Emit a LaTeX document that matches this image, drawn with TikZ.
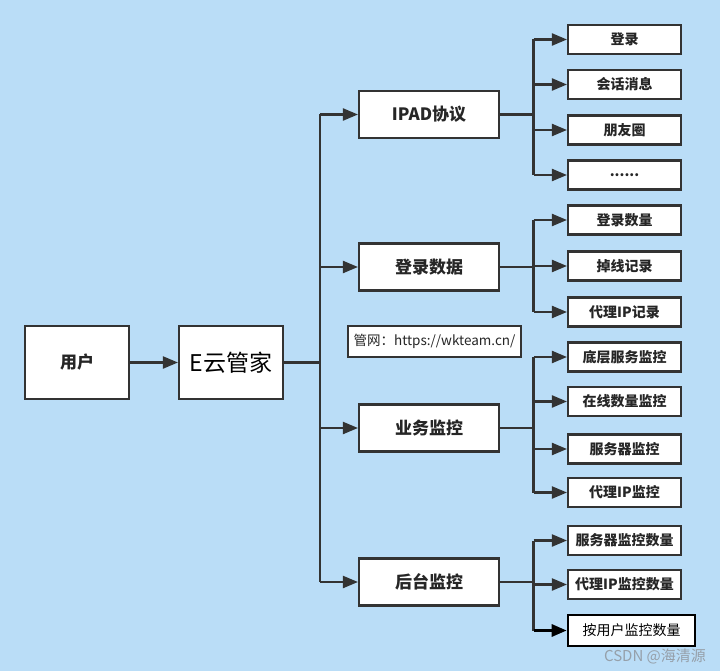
\documentclass[tikz,border=0pt]{standalone}
\usepackage{fontspec}
\setmainfont{Noto Sans CJK SC}
\usetikzlibrary{arrows.meta}
\definecolor{bgc}{RGB}{186,221,247}
\definecolor{linec}{RGB}{51,51,51}
\definecolor{wmc}{RGB}{150,160,170}
\tikzset{
  box/.style={draw=linec, fill=white, line width=2.1pt, inner sep=0pt, text=black!85},
  mainbox/.style={box, minimum width=104pt, minimum height=73pt},
  midbox/.style={box, minimum width=140pt, minimum height=47pt, font=\fontsize{17}{20}\selectfont\bfseries},
  leaf/.style={box, minimum width=113pt, minimum height=29pt, font=\fontsize{14}{17}\selectfont\bfseries},
  conn/.style={draw=linec, line width=2.1pt},
  arr/.style={conn, -{Triangle[length=15pt 0,width=12pt 0]}},
}
\begin{document}
\begin{tikzpicture}[x=1pt,y=-1pt]
\fill[bgc] (0,0) rectangle (720,671);
\useasboundingbox (0,0) rectangle (720,671);
% main nodes
\node[mainbox, font=\fontsize{17}{20}\selectfont\bfseries] (user) at (77,362.5) {用户};
\node[mainbox, font=\fontsize{23}{26}\selectfont, text=black] (ecloud) at (231,362.5) {E云管家};
\node[midbox] (ipad) at (429,114.5) {IPAD协议};
\node[midbox] (logd) at (429,267) {登录数据};
\node[midbox] (biz) at (429,428) {业务监控};
\node[midbox] (back) at (429,582) {后台监控};
\node[box, line width=1.7pt, minimum width=173pt, minimum height=31pt, font=\fontsize{13.5}{16}\selectfont] (site) at (434.5,341.5) {管网：https://wkteam.cn/};
% leaves
\node[leaf] (l1) at (624.5,39.5) {登录};
\node[leaf] (l2) at (624.5,84.5) {会话消息};
\node[leaf] (l3) at (624.5,130) {朋友圈};
\node[leaf] (l4) at (624.5,175) {......};
\node[leaf] (l5) at (624.5,220) {登录数量};
\node[leaf] (l6) at (624.5,266) {掉线记录};
\node[leaf] (l7) at (624.5,312) {代理IP记录};
\node[leaf] (l8) at (624.5,357) {底层服务监控};
\node[leaf] (l9) at (624.5,401.5) {在线数量监控};
\node[leaf] (l10) at (624.5,449) {服务器监控};
\node[leaf] (l11) at (624.5,492.5) {代理IP监控};
\node[leaf] (l12) at (624.5,540.5) {服务器监控数量};
\node[leaf] (l13) at (624.5,584.5) {代理IP监控数量};
\node[leaf, draw=black, line width=2.6pt, minimum width=127pt, minimum height=31pt, font=\fontsize{14}{17}\selectfont, text=black] (l14) at (631.5,630.5) {按用户监控数量};
% watermark
\node[font=\fontsize{15}{18}\selectfont, text=wmc, inner sep=0pt] (wm) at (655,656) {CSDN @海清源};
% connectors
\coordinate (t) at (320,362.5);
\draw[arr] (user) -- (ecloud);
\draw[conn] (ecloud.east) -- (t);
\draw[conn] (t |- ipad.west) -- (t |- back.west);
\foreach \m in {ipad,logd,biz,back} \draw[arr] (t |- \m.west) -- (\m.west);
\coordinate (s) at (533.5,0);
% IPAD
\draw[conn] (ipad.east) -- (s |- ipad.east);
\draw[conn] (s |- l1.west) -- (s |- l4.west);
\foreach \l in {l1,l2,l3,l4} \draw[arr] (s |- \l.west) -- (\l.west);
% login data
\draw[conn] (logd.east) -- (s |- logd.east);
\draw[conn] (s |- l5.west) -- (s |- l7.west);
\foreach \l in {l5,l6,l7} \draw[arr] (s |- \l.west) -- (\l.west);
% biz
\draw[conn] (biz.east) -- (s |- biz.east);
\draw[conn] (s |- l8.west) -- (s |- l11.west);
\foreach \l in {l8,l9,l10,l11} \draw[arr] (s |- \l.west) -- (\l.west);
% back
\draw[conn] (back.east) -- (s |- back.east);
\draw[conn] (s |- l12.west) -- (s |- l14.west);
\foreach \l in {l12,l13} \draw[arr] (s |- \l.west) -- (\l.west);
\draw[arr, draw=black, line width=3pt] (s |- l14.west) -- (l14.west);
\end{tikzpicture}
\end{document}
